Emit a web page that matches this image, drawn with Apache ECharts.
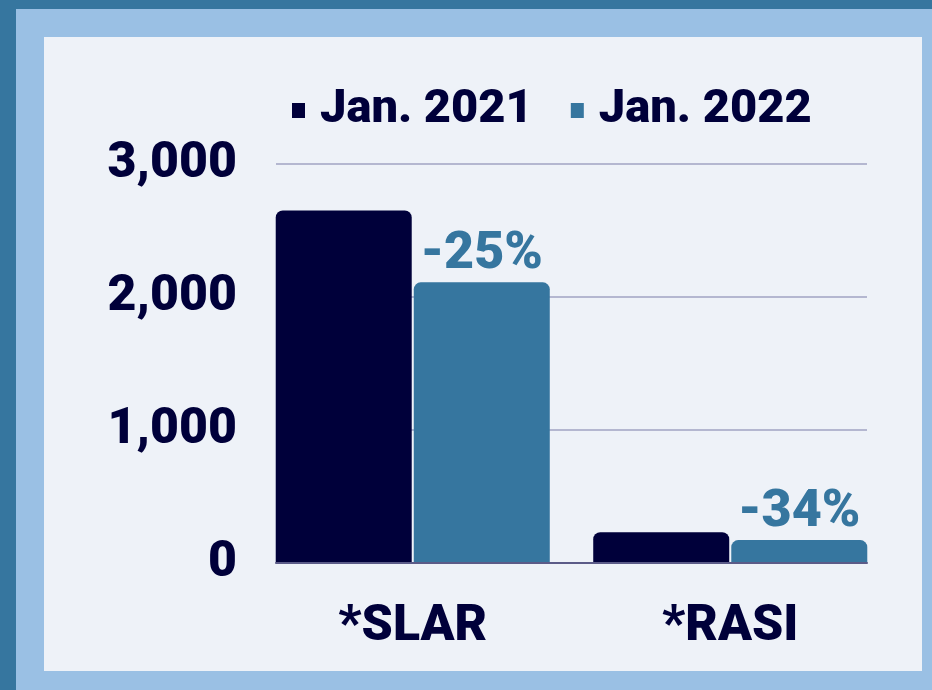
<!DOCTYPE html>
<html>
<head>
<meta charset="utf-8">
<script src="https://cdn.jsdelivr.net/npm/echarts@6/dist/echarts.min.js"></script>
<style>
  html, body { margin: 0; padding: 0; background: #36769f; }
  #chart { width: 932px; height: 690px; }
</style>
</head>
<body>
<div id="chart"></div>
<script>
const categories = ['*SLAR', '*RASI'];
const seriesNames = ['Jan. 2021', 'Jan. 2022'];
const jan2021 = [2650, 232];
const jan2022 = [2110, 172];
const changeLabels = ['-25%', '-34%'];
const yTicks = [0, 1000, 2000, 3000];

const NAVY = '#00003a';
const BLUE = '#36769f';
const FONT = 'Roboto, "Noto Sans", sans-serif';
const WEIGHT = 900;

const chart = echarts.init(document.getElementById('chart'));

chart.setOption({
  backgroundColor: '#36769f',
  animation: false,
  graphic: [
    { type: 'rect', z: -10, shape: { x: 16, y: 9, width: 916, height: 681 }, style: { fill: '#9ac0e4' } },
    { type: 'rect', z: -9, shape: { x: 44, y: 37, width: 878, height: 634 }, style: { fill: '#eef2f8' } }
  ],
  legend: {
    top: 82,
    left: 287,
    itemWidth: 13,
    itemHeight: 15,
    itemGap: 38,
    icon: 'rect',
    textStyle: { color: NAVY, fontFamily: FONT, fontWeight: WEIGHT, fontSize: 47, padding: [0, 0, 0, 10] },
    data: seriesNames
  },
  grid: [
    // bars
    { left: 254, right: 43, top: 164, bottom: 127 },
    // gridlines + value labels
    { left: 276, right: 65, top: 164, bottom: 127 }
  ],
  xAxis: [
    {
      type: 'category',
      gridIndex: 0,
      data: categories,
      axisLine: { show: false },
      axisTick: { show: false },
      axisLabel: { color: NAVY, fontFamily: FONT, fontWeight: WEIGHT, fontSize: 50, margin: 39 }
    },
    {
      type: 'category',
      gridIndex: 1,
      data: categories,
      z: 5,
      axisLine: { lineStyle: { color: '#5b5b88', width: 2 } },
      axisTick: { show: false },
      axisLabel: { show: false }
    }
  ],
  yAxis: [
    {
      type: 'value', gridIndex: 0, min: 0, max: 3000, interval: 1000,
      axisLine: { show: false }, axisTick: { show: false },
      axisLabel: { show: false }, splitLine: { show: false }
    },
    {
      type: 'value', gridIndex: 1, min: yTicks[0], max: yTicks[yTicks.length - 1], interval: 1000,
      axisLine: { show: false }, axisTick: { show: false },
      axisLabel: {
        color: NAVY, fontFamily: FONT, fontWeight: WEIGHT, fontSize: 50, margin: 39,
        padding: [6, 0, 0, 0],
        formatter: v => v.toLocaleString('en-US')
      },
      splitLine: { lineStyle: { color: '#b4b7d0', width: 2 } }
    }
  ],
  series: [
    {
      name: seriesNames[0],
      type: 'bar',
      xAxisIndex: 0,
      yAxisIndex: 0,
      data: jan2021,
      barWidth: 136,
      barGap: '1.5%',
      itemStyle: { color: NAVY, borderRadius: [7, 7, 0, 0] }
    },
    {
      name: seriesNames[1],
      type: 'bar',
      xAxisIndex: 0,
      yAxisIndex: 0,
      data: jan2022,
      barWidth: 136,
      barGap: '1.5%',
      itemStyle: { color: BLUE, borderRadius: [7, 7, 0, 0] },
      label: {
        show: true,
        position: 'top',
        distance: 1,
        color: BLUE,
        fontFamily: FONT,
        fontWeight: WEIGHT,
        fontSize: 52,
        formatter: p => changeLabels[p.dataIndex]
      }
    }
  ]
});
</script>
</body>
</html>
